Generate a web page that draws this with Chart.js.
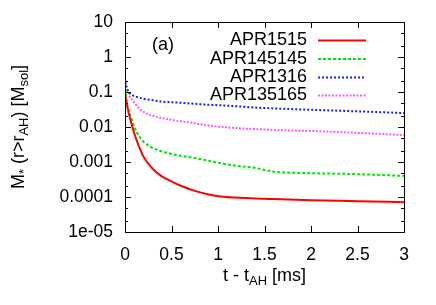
<!DOCTYPE html>
<html>
<head>
<meta charset="utf-8">
<script src="https://cdn.jsdelivr.net/npm/chart.js@4"></script>
<style>
  body { margin: 0; background: #fff; }
  canvas { display: block; }
</style>
</head>
<body>
<canvas id="massChart" width="436" height="305"></canvas>
<script>
// datos
const tiempos = [0, 0.02, 0.04, 0.075, 0.1, 0.15, 0.2, 0.3, 0.4, 0.5, 0.6, 0.75, 0.9, 1.0, 1.2, 1.4, 1.5, 1.6, 2.0, 2.5, 3.0];
const apr1515 = [0.085, 0.045, 0.025, 0.011, 0.0065, 0.0028, 0.0014, 0.00063, 0.00038, 0.00028, 0.00021, 0.00015, 0.000118, 0.000105, 0.000096, 0.000091, 0.000089, 0.000087, 0.000081, 0.000076, 0.000071];
const apr145145 = [0.17, 0.05, 0.03, 0.016, 0.01, 0.0055, 0.0038, 0.0025, 0.002, 0.0017, 0.0015, 0.0013, 0.00108, 0.00095, 0.00078, 0.00068, 0.00059, 0.00053, 0.00048, 0.00045, 0.0004];
const apr1316 = [0.2, 0.13, 0.1, 0.082, 0.077, 0.069, 0.064, 0.058, 0.053, 0.051, 0.049, 0.046, 0.043, 0.042, 0.039, 0.036, 0.035, 0.034, 0.031, 0.028, 0.025];
const apr135165 = [0.24, 0.13, 0.085, 0.06, 0.05, 0.034, 0.027, 0.021, 0.018, 0.016, 0.0146, 0.0128, 0.011, 0.0103, 0.0093, 0.0087, 0.0085, 0.0082, 0.0077, 0.0068, 0.0059];

const nombres = ['APR1515', 'APR145145', 'APR1316', 'APR135165'];
const xTicks = [0, 0.5, 1, 1.5, 2, 2.5, 3];
const yTicks = [10, 1, 0.1, 0.01, 0.001, 0.0001, 0.00001];
const yLabels = ['10', '1', '0.1', '0.01', '0.001', '0.0001', '1e-05'];

const FONT = '"Liberation Sans", Arial, sans-serif';

function serie(label, values, color, dash, width) {
  return {
    label: label,
    data: tiempos.map((t, i) => ({ x: t, y: values[i] })),
    borderColor: color,
    borderWidth: width,
    borderDash: dash,
    pointRadius: 0,
    fill: false,
    cubicInterpolationMode: 'monotone'
  };
}

// texto con subíndices: partes [texto, esSub]
function drawParts(ctx, parts, x, y) {
  let cx = x;
  parts.forEach(p => {
    ctx.font = (p[1] ? '13px ' : '18px ') + FONT;
    ctx.fillText(p[0], cx, y + (p[1] ? 4 : 0));
    cx += ctx.measureText(p[0]).width;
  });
}
function widthParts(ctx, parts) {
  let w = 0;
  parts.forEach(p => {
    ctx.font = (p[1] ? '13px ' : '18px ') + FONT;
    w += ctx.measureText(p[0]).width;
  });
  return w;
}

const decoPlugin = {
  id: 'deco',
  afterDraw(chart) {
    const ctx = chart.ctx;
    const a = chart.chartArea;
    const xs = chart.scales.x;
    const ys = chart.scales.y;
    ctx.save();
    ctx.strokeStyle = '#000';
    ctx.lineWidth = 1;
    ctx.strokeRect(a.left + 0.5, a.top + 0.5, a.right - a.left, a.bottom - a.top);
    ctx.beginPath();
    xTicks.forEach(v => {
      const px = Math.round(xs.getPixelForValue(v)) + 0.5;
      ctx.moveTo(px, a.bottom); ctx.lineTo(px, a.bottom - 6);
      ctx.moveTo(px, a.top); ctx.lineTo(px, a.top + 6);
    });
    yTicks.forEach(v => {
      const py = Math.round(ys.getPixelForValue(v)) + 0.5;
      ctx.moveTo(a.left, py); ctx.lineTo(a.left + 6, py);
      ctx.moveTo(a.right, py); ctx.lineTo(a.right - 6, py);
      [2, 5].forEach(m => {
        if (v < 10) {
          const pm = Math.round(ys.getPixelForValue(v * m)) + 0.5;
          ctx.moveTo(a.left, pm); ctx.lineTo(a.left + 3, pm);
          ctx.moveTo(a.right, pm); ctx.lineTo(a.right - 3, pm);
        }
      });
    });
    ctx.stroke();

    // leyenda
    ctx.fillStyle = '#000';
    ctx.textBaseline = 'middle';
    ctx.font = '18px ' + FONT;
    const filas = [40.5, 59, 77.5, 95.5];
    chart.data.datasets.forEach((ds, i) => {
      ctx.textAlign = 'right';
      ctx.fillText(ds.label, 307, filas[i]);
      ctx.beginPath();
      ctx.strokeStyle = ds.borderColor;
      ctx.lineWidth = ds.borderWidth;
      ctx.setLineDash(ds.borderDash);
      ctx.moveTo(318, filas[i]);
      ctx.lineTo(366, filas[i]);
      ctx.stroke();
      ctx.setLineDash([]);
    });
    ctx.textAlign = 'left';
    ctx.fillText('(a)', 152, 45);

    // título eje x
    ctx.textBaseline = 'alphabetic';
    const xParts = [['t - t', false], ['AH', true], [' [ms]', false]];
    const wx = widthParts(ctx, xParts);
    drawParts(ctx, xParts, (a.left + a.right) / 2 - wx / 2, 281);

    // título eje y
    const yParts = [['M', false], ['*', true], [' (r>r', false], ['AH', true], [') [M', false], ['sol', true], [']', false]];
    const wy = widthParts(ctx, yParts);
    ctx.translate(24, (a.top + a.bottom) / 2);
    ctx.rotate(-Math.PI / 2);
    drawParts(ctx, yParts, -wy / 2, 0);
    ctx.restore();
  }
};

new Chart(document.getElementById('massChart'), {
  type: 'line',
  data: {
    datasets: [
      serie(nombres[0], apr1515, '#ff0000', [], 2),
      serie(nombres[1], apr145145, '#00e600', [3, 2], 2),
      serie(nombres[2], apr1316, '#1a1aff', [2, 2], 2),
      serie(nombres[3], apr135165, '#ff55ff', [2, 1.5], 2)
    ]
  },
  options: {
    responsive: false,
    animation: false,
    devicePixelRatio: 1,
    layout: { padding: { top: 22, right: 32, left: 0, bottom: 0 } },
    plugins: {
      legend: { display: false },
      tooltip: { enabled: false }
    },
    scales: {
      x: {
        type: 'linear',
        min: 0,
        max: 3,
        afterBuildTicks: s => { s.ticks = xTicks.map(v => ({ value: v })); },
        afterFit: s => { s.height = 73; },
        grid: { display: false },
        border: { display: false },
        ticks: {
          color: '#000',
          font: { family: FONT, size: 17.5 },
          padding: 5,
          maxRotation: 0,
          callback: v => String(v)
        }
      },
      y: {
        type: 'logarithmic',
        min: 0.00001,
        max: 10,
        afterBuildTicks: s => { s.ticks = yTicks.map(v => ({ value: v })); },
        afterFit: s => { s.width = 125; },
        grid: { display: false },
        border: { display: false },
        ticks: {
          color: '#000',
          font: { family: FONT, size: 17.5 },
          padding: 4,
          callback: v => yLabels[yTicks.indexOf(v)] ?? ''
        }
      }
    }
  },
  plugins: [decoPlugin]
});
</script>
</body>
</html>
